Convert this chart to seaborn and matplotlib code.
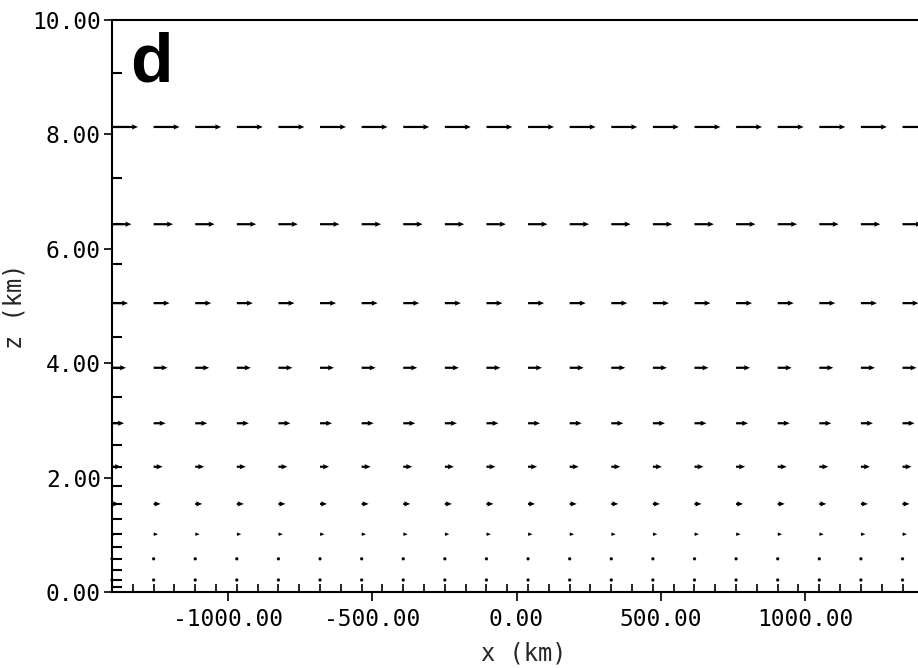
import numpy as np
import pandas as pd
import matplotlib
matplotlib.use("Agg")
import matplotlib.pyplot as plt
import seaborn as sns
from matplotlib.ticker import FixedLocator, FormatStrFormatter

# ---------------- data ----------------
x_columns_km = [-1400, -1256, -1112, -968, -824, -680, -536, -392, -248, -104,
                40, 184, 328, 472, 616, 760, 904, 1048, 1192, 1336]
# model levels (inward ticks on the z axis)
model_levels_km = [0.09, 0.21, 0.38, 0.58, 0.79, 1.01, 1.28, 1.54, 1.85, 2.19,
                   2.57, 2.95, 3.41, 3.92, 4.46, 5.05, 5.73, 6.43, 7.24, 8.13, 9.07]
# levels where wind vectors are drawn and their (horizontal) speed
arrow_levels_km = [0.21, 0.58, 1.01, 1.54, 2.19, 2.95, 3.92, 5.05, 6.43, 8.13]
u_speed = [1.0, 1.2, 2.2, 3.5, 4.5, 6.0, 7.0, 8.0, 9.7, 13.0]

x_ticks = [-1000, -500, 0, 500, 1000]
z_ticks = [0, 2, 4, 6, 8, 10]
panel_label = "d"
x_label = "x (km)"
z_label = "z (km)"

# ---------------- table ----------------
X, Z = np.meshgrid(x_columns_km, arrow_levels_km)
U = np.broadcast_to(np.array(u_speed)[:, None], X.shape)
df = pd.DataFrame({"x": X.ravel(), "z": Z.ravel(), "u": U.ravel()})
df["w"] = 0.0

# ---------------- style ----------------
sns.set_theme(style="ticks")
plt.rcParams["font.family"] = ["DejaVu Sans Mono", "DejaVu Sans"]
plt.rcParams["axes.unicode_minus"] = False
plt.rcParams["axes.edgecolor"] = "black"
plt.rcParams["xtick.color"] = "black"
plt.rcParams["ytick.color"] = "black"

fig = plt.figure(figsize=(9.18, 6.68), dpi=100)
ax = fig.add_axes([112 / 918, 76 / 668, 809 / 918, 572 / 668])

ax.quiver(df["x"], df["z"], df["u"], df["w"],
          angles="xy", scale_units="inches", scale=50, pivot="tail",
          units="dots", width=2.2, headwidth=2.4, headlength=2.8,
          headaxislength=2.5, minshaft=1, minlength=1.6,
          color="black", clip_on=False, zorder=3)

ax.set_xlim(-1400, 1400)
ax.set_ylim(0, 10)

sns.despine(ax=ax, top=False, right=True)
for s in ["left", "bottom", "top"]:
    ax.spines[s].set_linewidth(1.5)
    ax.spines[s].set_color("black")

# major ticks
ax.xaxis.set_major_locator(FixedLocator(x_ticks))
ax.yaxis.set_major_locator(FixedLocator(z_ticks))
ax.xaxis.set_major_formatter(FormatStrFormatter("%.2f"))
ax.yaxis.set_major_formatter(FormatStrFormatter("%.2f"))
ax.tick_params(axis="x", which="major", direction="out", length=6.5, width=1.2,
               labelsize=16.5, pad=5, top=False)
ax.tick_params(axis="y", which="major", direction="out", length=6, width=1.2,
               labelsize=16.5, pad=2, right=False)

# minor (inward) ticks at grid columns / half columns and model levels
cols = np.array(x_columns_km, dtype=float)
half = (cols[:-1] + cols[1:]) / 2
xminor = np.sort(np.concatenate([cols, half, [cols[-1] + (cols[1] - cols[0]) / 2]]))
ax.xaxis.set_minor_locator(FixedLocator(xminor))
ax.yaxis.set_minor_locator(FixedLocator(model_levels_km))
ax.tick_params(axis="x", which="minor", direction="in", length=5.5, width=1.2, top=False)
ax.tick_params(axis="y", which="minor", direction="in", length=7, width=1.5, right=False)

ax.set_xlabel(x_label, fontsize=17)
ax.set_ylabel(z_label, fontsize=17)
ax.xaxis.set_label_coords(0.509, -0.087)
ax.yaxis.set_label_coords(-0.106, 0.5)

ax.text(0.023, 0.893, panel_label, transform=ax.transAxes, ha="left", va="baseline",
        fontsize=50, fontweight="bold", family="Liberation Sans", color="black")

fig.savefig("out.png", dpi=100)
